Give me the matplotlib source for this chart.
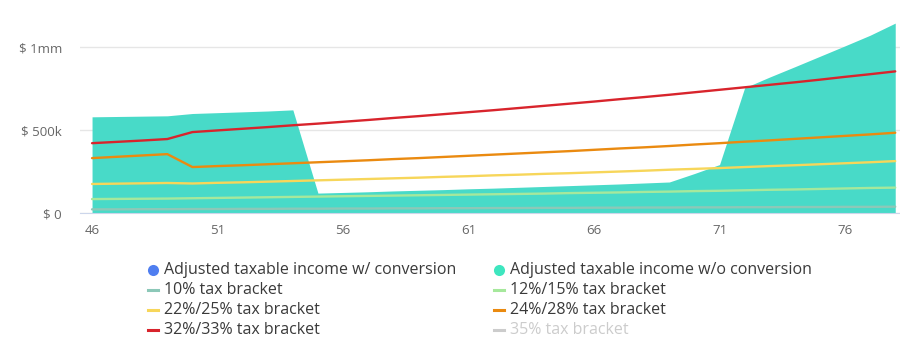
import matplotlib
matplotlib.use("Agg")
import matplotlib.pyplot as plt
from matplotlib.lines import Line2D

plt.rcParams['font.family'] = ['Open Sans', 'DejaVu Sans']

ages = list(range(46, 79))
income_with_conversion = [0] * 33
income_without_conversion = [580, 582, 584, 586, 600, 605, 610, 615, 622, 120, 124, 128, 133, 137, 141,
                             146, 150, 155, 160, 165, 170, 175, 181, 187, 238, 292, 755, 820, 882, 945,
                             1008, 1072, 1145]
bracket_10 = [22, 22, 23, 23, 24, 24, 25, 25, 26, 26, 27, 27, 28, 28, 29, 29, 30, 30, 31, 31, 32, 32,
              33, 33, 34, 34, 35, 35, 36, 36, 37, 37, 38]
bracket_12_15 = [84, 85, 86, 87, 89, 91, 93, 95, 97, 99, 101, 103, 105, 107, 109, 111, 113, 115, 117,
                 120, 122, 124, 127, 129, 132, 134, 137, 140, 142, 145, 148, 151, 153]
bracket_22_25 = [175, 177, 179, 181, 178, 182, 185, 189, 193, 197, 201, 205, 209, 213, 218, 222, 227,
                 231, 236, 240, 245, 250, 255, 261, 266, 271, 277, 283, 288, 294, 300, 306, 313]
bracket_24_28 = [331, 339, 347, 355, 277, 283, 288, 294, 300, 306, 312, 318, 325, 331, 338, 345, 352,
                 359, 366, 373, 381, 389, 396, 404, 413, 421, 430, 438, 447, 456, 465, 474, 484]
bracket_32_33 = [421, 429, 437, 446, 488, 498, 508, 518, 529, 539, 550, 561, 573, 584, 596, 608, 620,
                 633, 646, 659, 672, 686, 699, 713, 728, 743, 758, 773, 788, 804, 821, 837, 854]

x_ticks = [46, 51, 56, 61, 66, 71, 76]
y_ticks = [0, 500, 1000]
y_labels = ["$ 0", "$ 500k", "$ 1mm"]

fig = plt.figure(figsize=(9, 3.46), dpi=100)
ax = fig.add_axes([80 / 900, 1 - 213 / 346, 820 / 900, (213 - 14) / 346])

teal = '#48dac8'
blue = '#4f7ef0'
ax.fill_between(ages, 0, income_without_conversion, color=teal, lw=0, zorder=2)
ax.fill_between(ages, 0, income_with_conversion, color=blue, lw=0, zorder=2)

line_series = [
    (bracket_10, '#8cc8b8', '10% tax bracket'),
    (bracket_12_15, '#a6e89c', '12%/15% tax bracket'),
    (bracket_22_25, '#f7d65a', '22%/25% tax bracket'),
    (bracket_24_28, '#ea8a10', '24%/28% tax bracket'),
    (bracket_32_33, '#d8242c', '32%/33% tax bracket'),
]
for vals, col, _ in line_series:
    ax.plot(ages, vals, color=col, lw=1.7, zorder=3, solid_capstyle='round')

ax.set_xlim(45.52, 78.19)
ax.set_ylim(0, 1200)
ax.set_yticks(y_ticks)
ax.set_yticklabels(y_labels)
ax.set_xticks(x_ticks)
ax.set_xticklabels([str(a) for a in x_ticks])
ax.tick_params(axis='both', length=0, colors='#666666', labelsize=9.5)
ax.tick_params(axis='y', pad=13)
ax.tick_params(axis='x', pad=8)
for s in ['top', 'right', 'left']:
    ax.spines[s].set_visible(False)
ax.spines['bottom'].set_color('#ccd6eb')
ax.grid(axis='y', color='#e6e6e6', lw=1, zorder=0)
ax.set_axisbelow(True)

# legend (manual)
entries = [
    ('dot', blue, 'Adjusted taxable income w/ conversion', '#3a3a3a'),
    ('dot', '#3ee6bf', 'Adjusted taxable income w/o conversion', '#3a3a3a'),
    ('line', '#8cc8b8', '10% tax bracket', '#3a3a3a'),
    ('line', '#a6e89c', '12%/15% tax bracket', '#3a3a3a'),
    ('line', '#f7d65a', '22%/25% tax bracket', '#3a3a3a'),
    ('line', '#ea8a10', '24%/28% tax bracket', '#3a3a3a'),
    ('line', '#d8242c', '32%/33% tax bracket', '#3a3a3a'),
    ('line', '#cccccc', '35% tax bracket', '#cccccc'),
]
col_x = [148, 494]
row_y = [270, 290, 310, 330]
for i, (kind, col, label, tcol) in enumerate(entries):
    cx = col_x[i % 2]
    cy = row_y[i // 2]
    fy = 1 - cy / 346
    if kind == 'dot':
        fig.add_artist(Line2D([(cx + 5) / 900], [fy], marker='o', markersize=8, color=col,
                              markeredgewidth=0, transform=fig.transFigure))
    else:
        fig.add_artist(Line2D([cx / 900, (cx + 10) / 900], [fy, fy], color=col, lw=2.2,
                              transform=fig.transFigure))
    fig.text((cx + 16) / 900, fy, label, color=tcol, fontsize=11.5, va='center', ha='left')

fig.savefig('out.png', dpi=100)
